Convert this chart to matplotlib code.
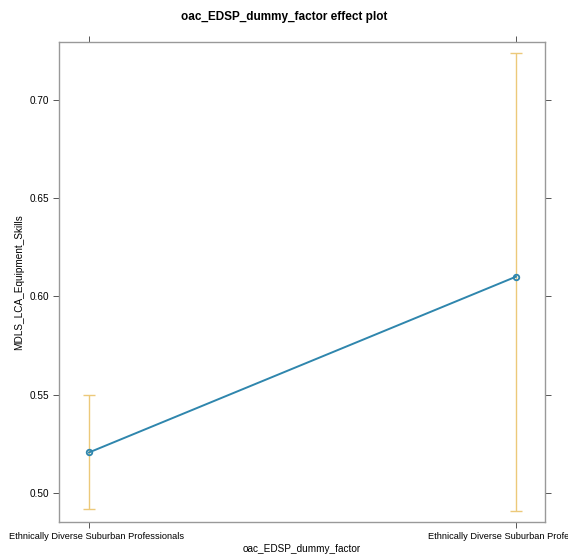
import matplotlib
matplotlib.use("Agg")
import matplotlib.pyplot as plt
import matplotlib.transforms as mtransforms
import numpy as np

categories = ["Ethnically Diverse Suburban Professionals", "Ethnically Diverse Suburban Professionals"]
fit = [0.5205, 0.610]
lower = [0.4919, 0.4908]
upper = [0.550, 0.724]
yticks = [0.50, 0.55, 0.60, 0.65, 0.70]

plt.rcParams['font.family'] = ['Liberation Sans', 'DejaVu Sans']
fig = plt.figure(figsize=(5.68, 5.55), dpi=100)
ax = fig.add_axes([59/568, 1-522/555, (545-59)/568, (522-42)/555])

x = np.arange(1, len(categories)+1)
fit_a = np.array(fit)
yerr = [fit_a - np.array(lower), np.array(upper) - fit_a]
ax.errorbar(x, fit, yerr=yerr, fmt='none', ecolor='#ecc97a', elinewidth=1.0, capsize=4, capthick=1.0, zorder=2)
ax.plot(x, fit, color='#2f86ad', lw=1.4, marker='o', ms=4, mfc='none', mec='#2f86ad', mew=1.3, zorder=3)

ax.set_xlim(0.9298, 2.068)
ax.set_ylim(0.4851, 0.7295)
ax.set_yticks(yticks)
ax.set_yticklabels([f"{v:.2f}" for v in yticks])
ax.set_xticks(x)
ax.set_xticklabels(categories)
for s in ax.spines.values():
    s.set_color('#999999')
    s.set_linewidth(1.0)
ax.tick_params(axis='both', direction='out', length=4, color='#555555', width=0.7,
               top=True, right=True, labeltop=False, labelright=False, pad=3)
ax.tick_params(axis='x', labelsize=6.7)
ax.tick_params(axis='y', labelsize=7.2)
# first label sits slightly right of its tick in the reference
lbl = ax.get_xticklabels()[0]
lbl.set_transform(lbl.get_transform() + mtransforms.ScaledTranslation(8/100, 0, fig.dpi_scale_trans))
ax.set_xlabel("oac_EDSP_dummy_factor", fontsize=7.2, labelpad=2)
ax.set_ylabel("MDLS_LCA_Equipment_Skills", fontsize=7.2, labelpad=4)
fig.text(0.5, 1-17/555, "oac_EDSP_dummy_factor effect plot", ha='center', va='center', fontsize=8.5, fontweight='bold')
fig.savefig("out.png", dpi=100)
